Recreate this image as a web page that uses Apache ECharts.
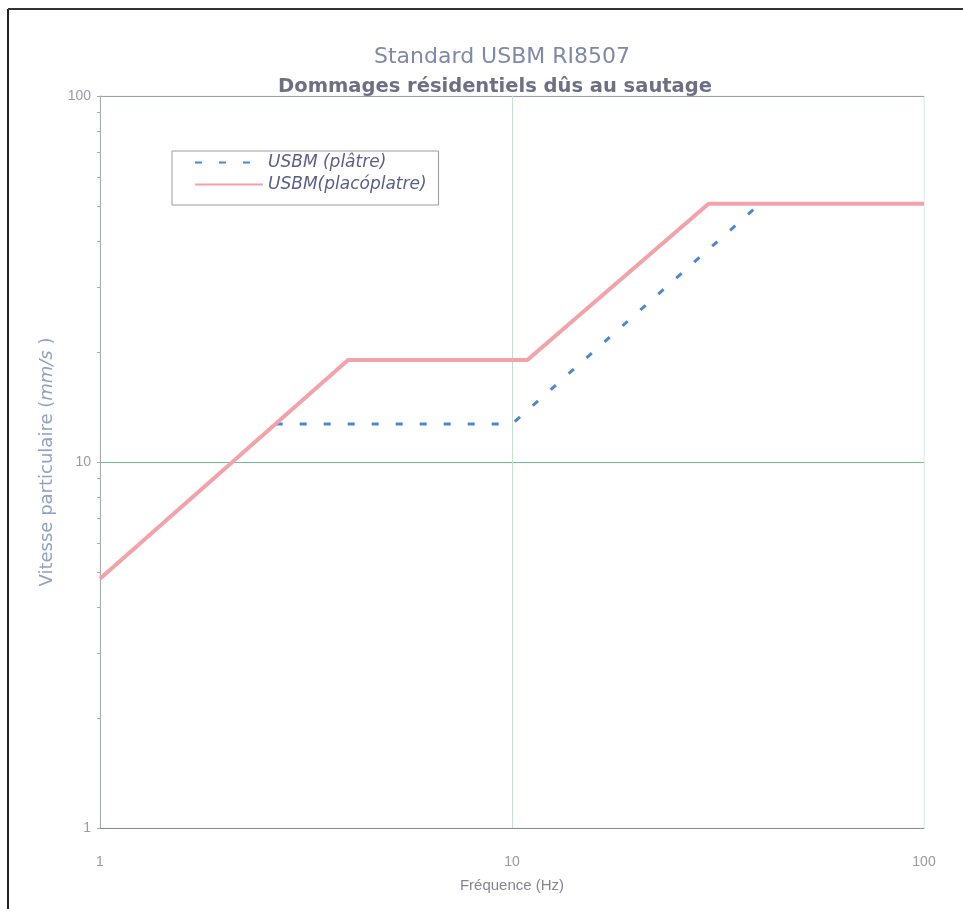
<!DOCTYPE html>
<html><head><meta charset="utf-8">
<script src="https://cdn.jsdelivr.net/npm/echarts@6/dist/echarts.min.js"></script>
<style>html,body{margin:0;padding:0;background:#fff}#c{width:963px;height:909px}</style>
</head><body><div id="c"></div>
<script>
const seriesNames = ['USBM (plâtre)', 'USBM(placóplatre)'];
const plaster = [[2.67, 12.7], [10, 12.7], [40, 50.8]];
const drywall = [[1, 4.8], [4, 19], [10.9, 19], [30, 50.8], [100, 50.8]];
const xTicks = [1, 10, 100];
const yTicks = [1, 10, 100];
const yMinorTicks = [2,3,4,5,6,7,8,9,20,30,40,50,60,70,80,90];

const chart = echarts.init(document.getElementById('c'));
chart.setOption({
  animation: false,
  backgroundColor: '#fff',
  title: [
    { text: 'Standard USBM RI8507', left: 497, textAlign: 'center', top: 41,
      textStyle: { fontFamily: 'DejaVu Sans', fontSize: 22, fontWeight: 'normal', color: '#8088a8' } },
    { text: 'Dommages résidentiels dûs au sautage', left: 490, textAlign: 'center', top: 72,
      textStyle: { fontFamily: 'DejaVu Sans', fontSize: 19.5, fontWeight: 'bold', color: '#6e6f85' } }
  ],
  legend: {
    orient: 'vertical', left: 172, top: 151,
    data: seriesNames,
    backgroundColor: '#fff', borderColor: '#9a9aa4', borderWidth: 1,
    padding: [3, 12, 12, 22], itemGap: 5, itemWidth: 68, itemHeight: 16,
    itemStyle: { opacity: 0 },
    textStyle: { fontFamily: 'DejaVu Sans', fontStyle: 'italic', fontSize: 17, color: '#5a5f88' }
  },
  grid: { left: 100, right: 39, top: 96, bottom: 81, show: true, borderColor: '#e2f2f2', borderWidth: 1 },
  xAxis: {
    type: 'log', logBase: 10, min: 1, max: 100,
    name: 'Fréquence (Hz)', nameLocation: 'middle', nameGap: 50,
    nameTextStyle: { fontFamily: 'Liberation Sans', fontSize: 15, color: '#858590' },
    axisLine: { show: true, lineStyle: { color: '#8c8c98', width: 1 } },
    axisTick: { show: false },
    axisLabel: { margin: 27, fontFamily: 'Liberation Sans', fontSize: 14, color: '#9a9aa2',
      customValues: xTicks },
    splitLine: { show: true, lineStyle: { color: ['#aab', '#b8e6c8', '#e2f2f2'], width: 1 } }
  },
  yAxis: [{
    type: 'log', logBase: 10, min: 1, max: 100,
    name: '{a|Vitesse particulaire (}{b|mm/s}{a| )}', nameLocation: 'middle', nameGap: 42, nameRotate: 90,
    nameTextStyle: { rich: {
      a: { fontFamily: 'DejaVu Sans', fontSize: 18, color: '#8fa0c4' },
      b: { fontFamily: 'DejaVu Sans', fontSize: 18, fontStyle: 'italic', color: '#8fa0c4' } } },
    axisLine: { show: true, lineStyle: { color: '#a8aab8', width: 1 } },
    axisTick: { show: true, length: 3, customValues: yTicks, lineStyle: { color: '#a8aab8' } },
    axisLabel: { margin: 9, fontFamily: 'Liberation Sans', fontSize: 14, color: '#9a9aa2', customValues: yTicks },
    splitLine: { show: true, lineStyle: { color: ['#aab', '#6cc48c', '#9aa0b4'], width: 1 } }
  }, {
    type: 'log', logBase: 10, min: 1, max: 100, position: 'left',
    axisLine: { show: false },
    axisTick: { show: true, length: 3, interval: 0, customValues: yMinorTicks, lineStyle: { color: '#a8aab8' } },
    axisLabel: { show: false, interval: 0 },
    splitLine: { show: false }
  }],
  series: [
    { name: seriesNames[0], type: 'line', data: plaster, symbol: 'none', z: 3,
      lineStyle: { color: '#4a88d4', width: 3, type: [7, 17] }, itemStyle: { color: '#4a88d4' } },
    { name: seriesNames[1], type: 'line', data: drywall, symbol: 'none', z: 4,
      lineStyle: { color: '#f4a2aa', width: 4 }, itemStyle: { color: '#f4a2aa' } }
  ],
  graphic: [
    { type: 'line', shape: { x1: 8, y1: 9, x2: 8, y2: 909 }, style: { stroke: '#222', lineWidth: 2 } },
    { type: 'line', shape: { x1: 8, y1: 9, x2: 963, y2: 9 }, style: { stroke: '#333', lineWidth: 2 } }
  ]
});
</script></body></html>
